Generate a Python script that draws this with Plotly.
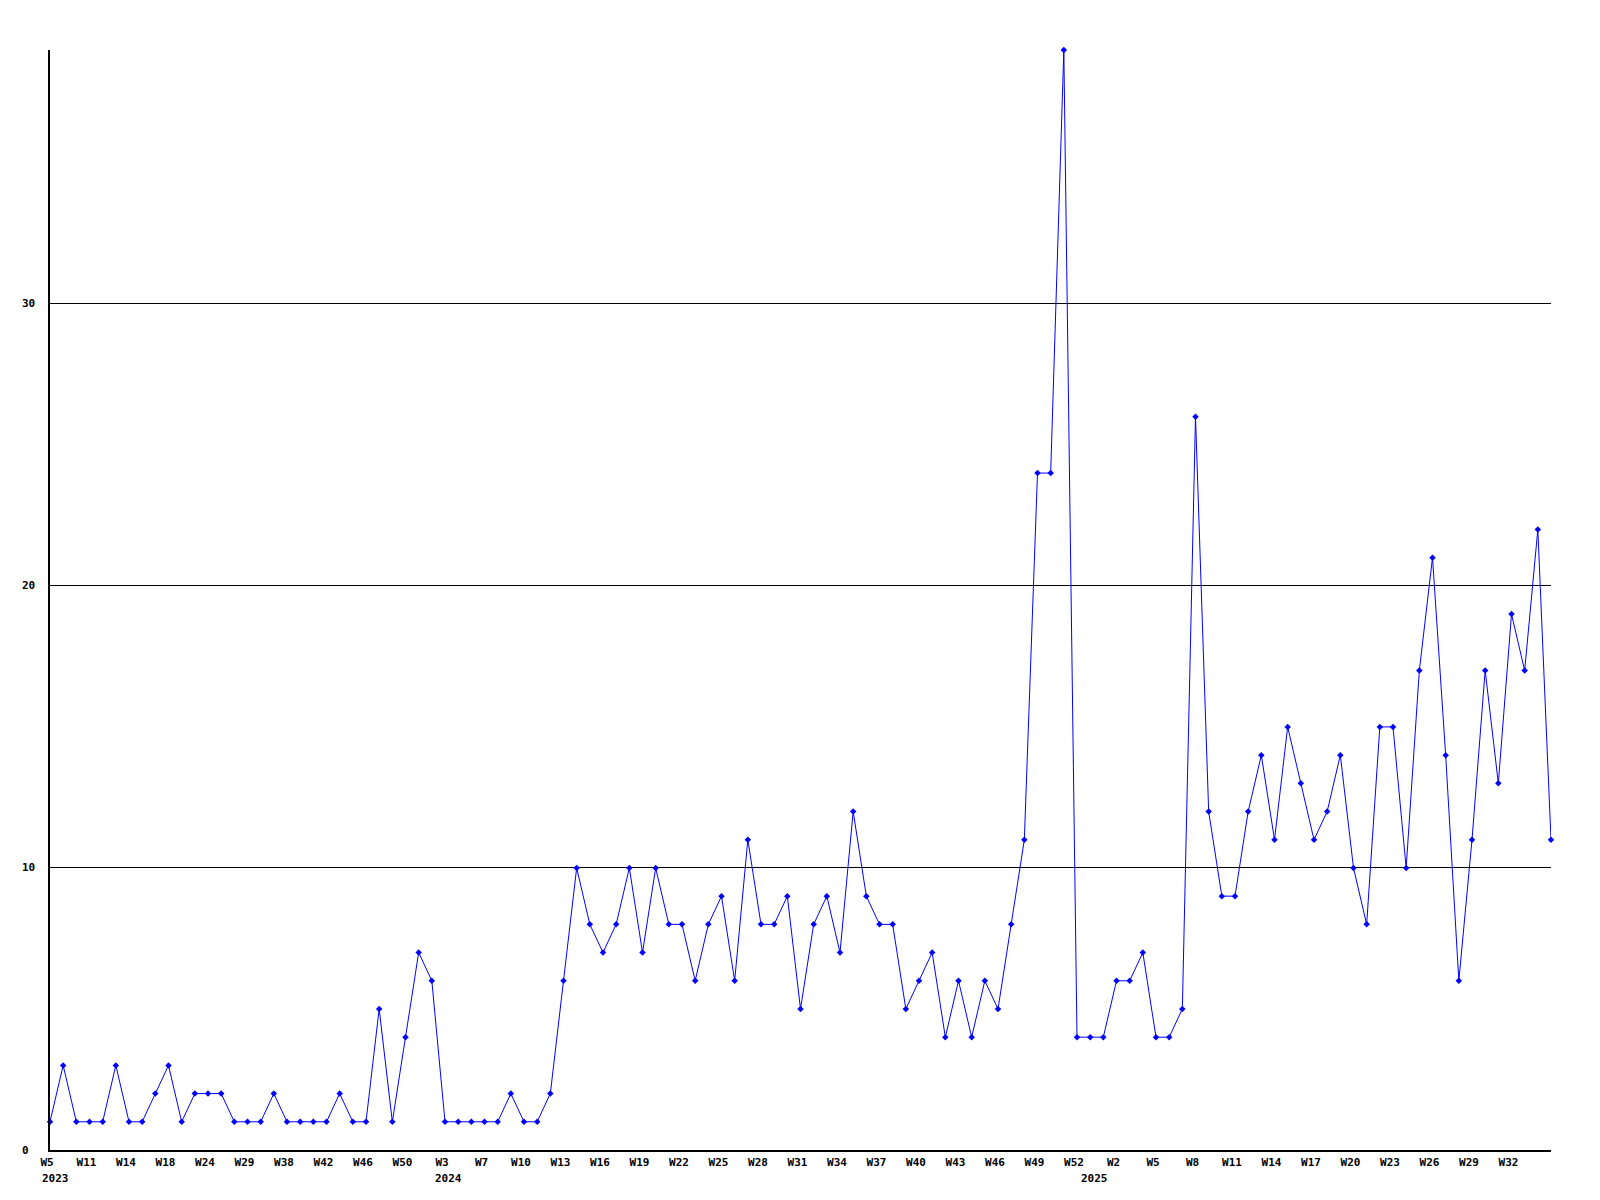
import plotly.graph_objects as go

values = [1, 3, 1, 1, 1, 3, 1, 1, 2, 3, 1, 2, 2, 2, 1, 1, 1, 2, 1, 1,
          1, 1, 2, 1, 1, 5, 1, 4, 7, 6, 1, 1, 1, 1, 1, 2, 1, 1, 2, 6,
          10, 8, 7, 8, 10, 7, 10, 8, 8, 6, 8, 9, 6, 11, 8, 8, 9, 5, 8, 9,
          7, 12, 9, 8, 8, 5, 6, 7, 4, 6, 4, 6, 5, 8, 11, 24, 24, 39, 4, 4,
          4, 6, 6, 7, 4, 4, 5, 26, 12, 9, 9, 12, 14, 11, 15, 13, 11, 12, 14, 10,
          8, 15, 15, 10, 17, 21, 14, 6, 11, 17, 13, 19, 17, 22, 11]

week_labels = ["W5", "W11", "W14", "W18", "W24", "W29", "W38", "W42", "W46", "W50",
               "W3", "W7", "W10", "W13", "W16", "W19", "W22", "W25", "W28", "W31",
               "W34", "W37", "W40", "W43", "W46", "W49", "W52", "W2", "W5", "W8",
               "W11", "W14", "W17", "W20", "W23", "W26", "W29", "W32"]
label_step = 3

years = ["2023", "2024", "2025"]
year_index = [0, 30, 78]
year_shift = [-10, -12, 2]

y_ticks = [0, 10, 20, 30]

x = list(range(len(values)))
tickvals = [i * label_step for i in range(len(week_labels))]

font_family = "DejaVu Sans Mono"
plot_w = 1501

fig = go.Figure()
fig.add_trace(go.Scatter(
    x=x, y=values, mode="lines+markers",
    line=dict(color="#0000ff", width=1),
    marker=dict(symbol="diamond", size=5, color="#0000ff"),
    cliponaxis=False, hoverinfo="x+y",
))

for yr, pos, sh in zip(years, year_index, year_shift):
    fig.add_annotation(x=pos, y=0, xref="x", yref="y", text=yr, showarrow=False,
                       xanchor="left", yanchor="top", yshift=-20, xshift=sh,
                       font=dict(family=font_family, size=11, color="black", weight="bold"))

for t in y_ticks:
    fig.add_annotation(x=-30 / plot_w, y=t, xref="paper", yref="y", text=str(t),
                       showarrow=False, xanchor="left", yanchor="middle",
                       font=dict(family=font_family, size=11, color="black", weight="bold"))

fig.update_layout(
    width=1584, height=1184,
    margin=dict(l=42, r=41, t=42, b=42),
    paper_bgcolor="white", plot_bgcolor="white",
    showlegend=False,
    xaxis=dict(range=[0, len(values) - 1], tickmode="array", tickvals=tickvals,
               ticktext=week_labels, showgrid=False, zeroline=False,
               showline=True, linecolor="black", linewidth=1.5, ticks="",
               ticklabelstandoff=1, ticklabelshift=-3,
               tickfont=dict(family=font_family, size=11, color="black", weight="bold")),
    yaxis=dict(range=[0, max(values)], tickmode="array", tickvals=y_ticks,
               showticklabels=False, showgrid=True, gridcolor="black", gridwidth=1,
               zeroline=False, showline=True, linecolor="black", linewidth=1.5,
               ticks=""),
)

fig.write_html("out.html")
